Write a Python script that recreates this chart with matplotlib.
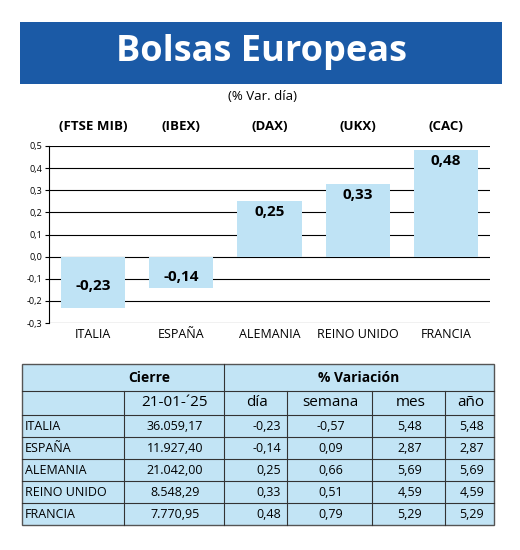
import matplotlib
matplotlib.use("Agg")
import matplotlib.pyplot as plt
from matplotlib.patches import Rectangle

countries = ["ITALIA", "ESPAÑA", "ALEMANIA", "REINO UNIDO", "FRANCIA"]
tickers = ["(FTSE MIB)", "(IBEX)", "(DAX)", "(UKX)", "(CAC)"]
dia = [-0.23, -0.14, 0.25, 0.33, 0.48]
cierre = ["36.059,17", "11.927,40", "21.042,00", "8.548,29", "7.770,95"]
dia_s = ["-0,23", "-0,14", "0,25", "0,33", "0,48"]
semana = ["-0,57", "0,09", "0,66", "0,51", "0,79"]
mes = ["5,48", "2,87", "5,69", "4,59", "5,29"]
anio = ["5,48", "2,87", "5,69", "4,59", "5,29"]
yticks = [0.5, 0.4, 0.3, 0.2, 0.1, 0.0, -0.1, -0.2, -0.3]

plt.rcParams['font.family'] = ['Open Sans', 'DejaVu Sans']
W, H = 520, 550
fig = plt.figure(figsize=(5.2, 5.5), dpi=100)

def fx(x): return x / W
def fy(y): return 1 - y / H

# Title box
fig.patches.append(Rectangle((fx(20), fy(84)), fx(482), 62 / H, transform=fig.transFigure,
                             facecolor="#1b5aa6", edgecolor="none"))
fig.text(fx(261), fy(52), "Bolsas Europeas", color="white", fontsize=26, fontweight="bold",
         ha="center", va="center")
fig.text(fx(262), fy(97), "(% Var. día)", fontsize=9.5, ha="center", va="center")

# Chart
ax = fig.add_axes([fx(49), fy(323), fx(441), (323 - 146) / H])
x = list(range(len(countries)))
ax.bar(x, dia, width=0.73, color="#bfe3f5", zorder=2)
ax.set_xlim(-0.5, 4.5)
ax.set_ylim(-0.3, 0.5)
ax.set_yticks(yticks)
ax.set_yticklabels([f"{v:.1f}".replace(".", ",") for v in yticks], fontsize=6.5)
ax.yaxis.grid(True, color="black", linewidth=0.8, zorder=1)
ax.tick_params(axis="y", length=3, pad=2)
ax.set_xticks([])
for s in ["top", "right", "bottom"]:
    ax.spines[s].set_visible(False)
for i, v in enumerate(dia):
    yy = v / 2 - 0.02 if v < 0 else v - 0.05
    ax.text(i, yy, f"{v:.2f}".replace(".", ","), ha="center", va="center",
            fontsize=11, fontweight="bold", zorder=3)
    ax.text(i, 0.59, tickers[i], ha="center", va="center", fontsize=9.5, fontweight="bold",
            clip_on=False)
    ax.text(i, -0.35, countries[i], ha="center", va="center", fontsize=9, clip_on=False)

# Table
tx0, tx1, ty0, ty1 = 22, 494, 364, 525
fig.patches.append(Rectangle((fx(tx0), fy(ty1)), fx(tx1 - tx0), (ty1 - ty0) / H,
                             transform=fig.transFigure, facecolor="#c2e4f5",
                             edgecolor="#555555", linewidth=1))
cols = [22, 124, 224, 287, 372, 445, 494]
rows = [364, 391, 415, 437, 459, 481, 503, 525]
def hline(y, x0, x1, lw=0.8):
    fig.add_artist(plt.Line2D([fx(x0), fx(x1)], [fy(y), fy(y)], color="#333333", linewidth=lw))
def vline(x, y0, y1, lw=0.8):
    fig.add_artist(plt.Line2D([fx(x), fx(x)], [fy(y0), fy(y1)], color="#333333", linewidth=lw))
for y in rows[1:-1]:
    hline(y, tx0, tx1)
vline(224, 364, 525)
vline(124, 391, 525)
for c in cols[3:6]:
    vline(c, 391, 525)
fig.text(fx(149), fy(378), "Cierre", fontsize=10, fontweight="bold", ha="center", va="center")
fig.text(fx(359), fy(378), "% Variación", fontsize=10, fontweight="bold", ha="center", va="center")
hdr = ["21-01-´25", "día", "semana", "mes", "año"]
hx = [174, 257, 330, 411, 471]
for t, xx in zip(hdr, hx):
    fig.text(fx(xx), fy(403), t, fontsize=11, ha="center", va="center")
for r in range(5):
    yc = fy((rows[r + 2] + rows[r + 3]) / 2)
    fig.text(fx(25), yc, countries[r], fontsize=9, ha="left", va="center")
    fig.text(fx(175), yc, cierre[r], fontsize=9, ha="center", va="center")
    fig.text(fx(281), yc, dia_s[r], fontsize=9, ha="right", va="center")
    fig.text(fx(331), yc, semana[r], fontsize=9, ha="center", va="center")
    fig.text(fx(422), yc, mes[r], fontsize=9, ha="right", va="center")
    fig.text(fx(484), yc, anio[r], fontsize=9, ha="right", va="center")

fig.savefig("out.png", dpi=100)
